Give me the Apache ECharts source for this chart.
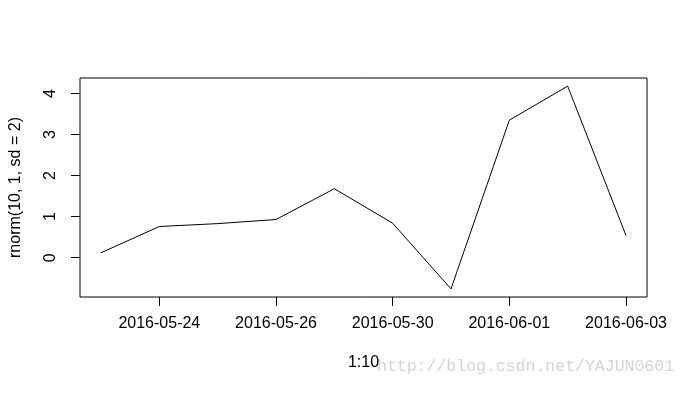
<!DOCTYPE html>
<html>
<head>
<meta charset="utf-8">
<script src="https://cdn.jsdelivr.net/npm/echarts@6/dist/echarts.min.js"></script>
<style>
html,body{margin:0;padding:0;background:#fff;}
#c{width:688px;height:394px;}
</style>
</head>
<body>
<div id="c"></div>
<script>
var xValues = [1, 2, 3, 4, 5, 6, 7, 8, 9, 10];
var yValues = [0.12, 0.76, 0.83, 0.93, 1.68, 0.84, -0.76, 3.35, 4.18, 0.54];
var xTickValues = [2, 4, 6, 8, 10];
var xTickLabels = ['2016-05-24', '2016-05-26', '2016-05-30', '2016-06-01', '2016-06-03'];
var yTickValues = [0, 1, 2, 3, 4];

var FONT = 'Liberation Sans, Arial, sans-serif';
// R-style 4% axis extension
var xMinD = Math.min.apply(null, xValues), xMaxD = Math.max.apply(null, xValues);
var yMinD = Math.min.apply(null, yValues), yMaxD = Math.max.apply(null, yValues);
var xPad = (xMaxD - xMinD) * 0.04, yPad = (yMaxD - yMinD) * 0.04;

var chart = echarts.init(document.getElementById('c'), null, {renderer: 'canvas'});
chart.setOption({
  animation: false,
  backgroundColor: '#fff',
  grid: {left: 78, top: 78, right: 41, bottom: 97, show: true, borderColor: '#000', borderWidth: 1, backgroundColor: 'transparent'},
  xAxis: {
    type: 'value',
    min: xMinD - xPad, max: xMaxD + xPad,
    name: '1:10', nameLocation: 'middle', nameGap: 58,
    nameTextStyle: {color: '#000', fontFamily: FONT, fontSize: 16},
    axisLine: {show: false, onZero: false},
    splitLine: {show: false},
    axisTick: {show: true, inside: false, length: 9, lineStyle: {color: '#000', width: 1}, customValues: xTickValues},
    axisLabel: {show: true, margin: 19, color: '#000', fontFamily: FONT, fontSize: 16, customValues: xTickValues,
      formatter: function (v) { var i = xTickValues.indexOf(v); return i >= 0 ? xTickLabels[i] : ''; }}
  },
  yAxis: {
    type: 'value',
    min: yMinD - yPad, max: yMaxD + yPad,
    name: 'rnorm(10, 1, sd = 2)', nameLocation: 'middle', nameGap: 56, nameRotate: 90,
    nameTextStyle: {color: '#000', fontFamily: FONT, fontSize: 16},
    axisLine: {show: false, onZero: false},
    splitLine: {show: false},
    axisTick: {show: true, inside: false, length: 9, lineStyle: {color: '#000', width: 1}, customValues: yTickValues},
    axisLabel: {show: true, margin: 21, rotate: 90, color: '#000', fontFamily: FONT, fontSize: 16, customValues: yTickValues}
  },
  series: [{
    type: 'line',
    data: xValues.map(function (x, i) { return [x, yValues[i]]; }),
    showSymbol: false,
    symbol: 'none',
    lineStyle: {color: '#000', width: 1},
    silent: true
  }],
  graphic: [{
    type: 'text', left: 377, top: 358,
    style: {text: 'http://blog.csdn.net/YAJUN0601', fill: '#d4d4d4', font: '16.5px "Liberation Mono", "DejaVu Sans Mono", monospace'}
  }]
});
</script>
</body>
</html>
